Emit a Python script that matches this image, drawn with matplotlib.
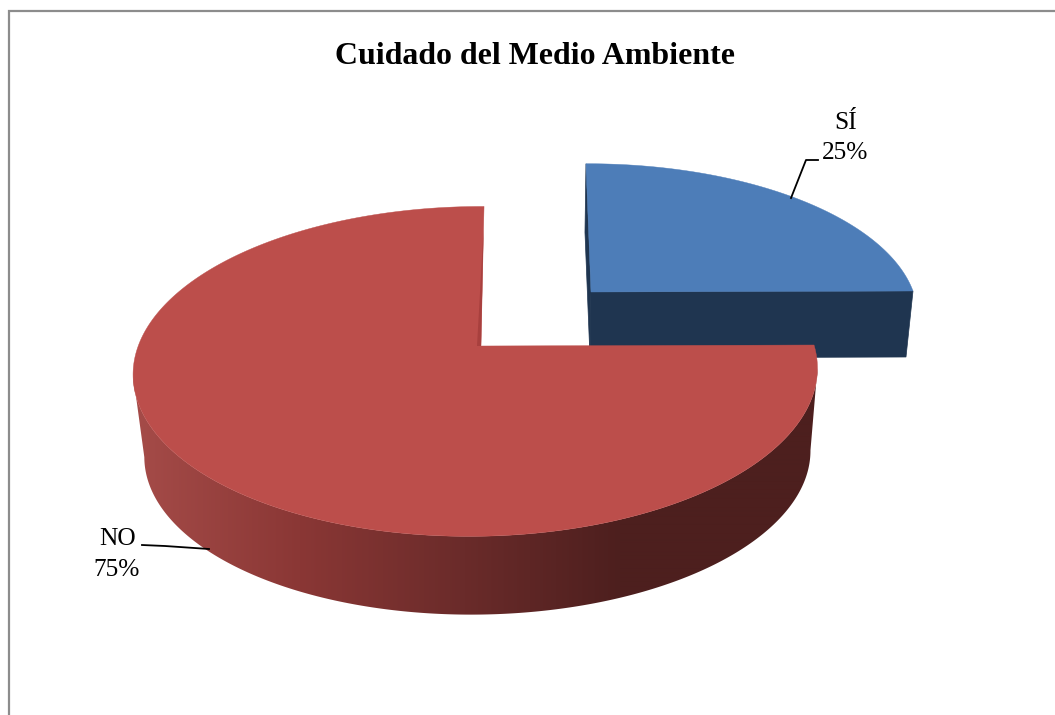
import numpy as np
import matplotlib
matplotlib.use('Agg')
import matplotlib.pyplot as plt
from matplotlib.colors import to_rgb

plt.rcParams['font.family'] = ['Liberation Serif', 'DejaVu Serif']

# Data
title = 'Cuidado del Medio Ambiente'
categories = ['SÍ', 'NO']
values = [25, 75]

# Colours
top_colors = ['#4D7DB8', '#BC4E4B']
blue_side = '#1F3550'
red_edge = '#A8403E'
red_stops_x = [130, 300, 465, 620, 820]
red_stops_c = ['#A64C49', '#8A3735', '#6A2B2A', '#4D1F1E', '#4D1F1E']
frame_color = '#8C8C8C'


def project(theta, geo, scale=1.0):
    # unit disc -> screen with a simple perspective division
    x0, y0, a, b, c, d, k, m = geo
    u = np.sin(theta) * scale
    v = np.cos(theta) * scale
    w = 1 + k * v + m * u
    return x0 + (a * u + c * v) / w, y0 - (b * v + d * u) / w


def ring(t0, t1, geo, n=240):
    t = np.linspace(t0, t1, n)
    return np.column_stack(project(t, geo))


# slice geometry: apex x, apex y, radii, shear, perspective
red_top = (481, 346, 338, 161, 3.5, 1, 0.154, 0.015)
red_bot = (483, 429, 329, 157, 3.5, 1, 0.154, 0.015)
blue_top = (591, 292, 322, 148, -5.8, 1, 0.154, 0.0)
blue_bot = (590, 358, 316, 145, -5.8, 1, 0.154, 0.0)

ang = np.cumsum([0] + values) / sum(values) * 2 * np.pi

fig = plt.figure(figsize=(10.55, 7.15), dpi=100)
ax = fig.add_axes([0, 0, 1, 1])
ax.axis('off')

# chart frame, the right side is cut off in the original
ax.plot([9, 9, 1055], [715, 11, 11], color=frame_color, lw=1.6, solid_joinstyle='miter')

# SÍ slice
t0, t1 = ang[0], ang[1]
top_arc = ring(t0, t1, blue_top)
bot_arc = ring(t0, t1, blue_bot)
ax.fill([blue_top[0], top_arc[-1, 0], bot_arc[-1, 0], blue_bot[0]],
        [blue_top[1], top_arc[-1, 1], bot_arc[-1, 1], blue_bot[1]], color=blue_side, lw=0.5)
ax.fill([top_arc[0, 0], blue_top[0], blue_bot[0], bot_arc[0, 0]],
        [top_arc[0, 1], blue_top[1], blue_bot[1], bot_arc[0, 1]], color=blue_side, lw=0.5)
ax.fill(np.r_[blue_top[0], top_arc[:, 0]], np.r_[blue_top[1], top_arc[:, 1]],
        color=top_colors[0], lw=0.3)

# NO slice: outer wall with a left-right gradient, then the top face
t0, t1 = ang[1], ang[2]
t = np.linspace(t0, t1, 500)
xt, yt = project(t, red_top)
xb, yb = project(t, red_bot)
# wall outline runs between the left and right silhouette points of both rims
tr, tl = xt.argmax(), xt.argmin()
br, bl = xb.argmax(), xb.argmin()
wall, = ax.fill(np.r_[xt[tr:tl + 1], xb[br:bl + 1][::-1]],
                np.r_[yt[tr:tl + 1], yb[br:bl + 1][::-1]], color='none', lw=0)
cols = np.arange(125, 825)
rgb = np.array([to_rgb(c) for c in red_stops_c])
grad = np.stack([np.interp(cols, red_stops_x, rgb[:, i]) for i in range(3)], axis=-1)[None, :, :]
im = ax.imshow(grad, extent=(125, 825, 620, 340), aspect='auto', interpolation='bilinear')
im.set_clip_path(wall)

ax.fill(np.r_[red_top[0], xt], np.r_[red_top[1], yt], color=top_colors[1], lw=0.3)
# darker sliver along the inner cut
ax.fill([red_top[0] + 2.5, red_top[0], red_top[0] - 4], [230, red_top[1], red_top[1]],
        color=red_edge, lw=0)

# labels and leader lines
ax.text(535, 57, title, fontsize=22.95, fontweight='bold', ha='center', va='center')
ax.text(846, 123, categories[0], fontsize=18.3, ha='center', va='center')
ax.text(845, 153, f'{values[0]}%', fontsize=18.3, ha='center', va='center')
ax.text(118, 539, categories[1], fontsize=18.3, ha='center', va='center')
ax.text(117, 570, f'{values[1]}%', fontsize=18.3, ha='center', va='center')
ax.plot([791, 806, 818], [198, 160, 160], color='black', lw=1.3)
ax.plot([209, 165, 142], [549, 546, 545], color='black', lw=1.3)

ax.set_xlim(0, 1055)
ax.set_ylim(715, 0)

plt.savefig('out.png', dpi=100)
plt.close()
